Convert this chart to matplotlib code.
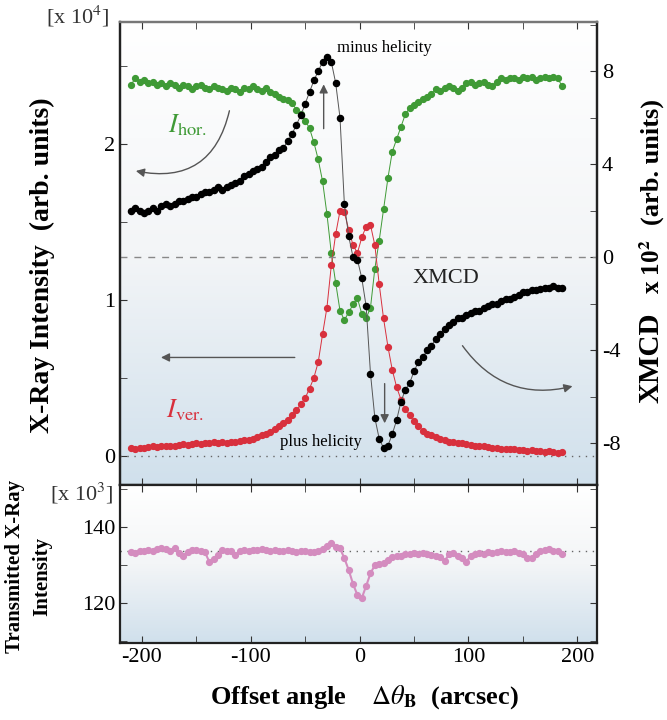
import numpy as np
import matplotlib
matplotlib.use("Agg")
import matplotlib.pyplot as plt
from matplotlib.colors import LinearSegmentedColormap
from matplotlib.patches import FancyArrowPatch
from matplotlib.ticker import MultipleLocator

plt.rcParams['font.family'] = ['Liberation Serif', 'DejaVu Serif']
plt.rcParams['mathtext.fontset'] = 'stix'
plt.rcParams['axes.unicode_minus'] = False

# -------------------------
# data
# -------------------------
offset = list(range(-210, 187, 4))   # arcsec, scan grid

# XMCD x10^2 (right axis)
xmcd = [2.0, 2.1, 2.0, 1.9, 2.0, 2.1, 2.0, 2.2, 2.3, 2.2,
        2.3, 2.4, 2.4, 2.5, 2.6, 2.6, 2.7, 2.8, 2.8, 2.9,
        3.0, 2.9, 3.0, 3.1, 3.2, 3.3, 3.5, 3.6, 3.7, 3.8,
        3.9, 4.1, 4.3, 4.4, 4.6, 4.7, 5.0, 5.3, 5.7, 6.1,
        6.6, 7.1, 7.6, 8.0, 8.4, 8.6, 8.4, 7.5, 6.0, 2.3,
        0.9, 0.0, -0.1, -0.9, -2.1, -5.0, -6.9, -7.8, -8.2, -8.1,
        -7.6, -7.0, -6.2, -5.7, -5.4, -4.9, -4.5, -4.3, -4.0, -3.8,
        -3.5, -3.3, -3.1, -2.9, -2.8, -2.6, -2.6, -2.5, -2.4, -2.3,
        -2.3, -2.2, -2.1, -2.0, -2.0, -1.9, -1.8, -1.8, -1.7, -1.6,
        -1.5, -1.5, -1.4, -1.4, -1.35, -1.3, -1.3, -1.25, -1.3, -1.3]

# I hor. x10^4 (left axis)
i_hor = [2.38, 2.42, 2.40, 2.41, 2.39, 2.40, 2.38, 2.39, 2.37, 2.39,
         2.38, 2.36, 2.38, 2.37, 2.35, 2.37, 2.38, 2.36, 2.35, 2.37,
         2.36, 2.35, 2.34, 2.36, 2.35, 2.33, 2.36, 2.35, 2.37, 2.35,
         2.34, 2.36, 2.33, 2.32, 2.30, 2.29, 2.28, 2.26, 2.22, 2.19,
         2.15, 2.10, 2.01, 1.90, 1.76, 1.55, 1.30, 1.11, 0.93, 0.87,
         0.92, 0.97, 1.01, 0.91, 0.88, 0.95, 1.20, 1.38, 1.58, 1.78,
         1.95, 2.03, 2.11, 2.19, 2.23, 2.25, 2.27, 2.29, 2.30, 2.32,
         2.35, 2.34, 2.36, 2.37, 2.36, 2.34, 2.36, 2.39, 2.40, 2.38,
         2.39, 2.40, 2.38, 2.37, 2.40, 2.42, 2.41, 2.42, 2.42, 2.41,
         2.43, 2.42, 2.43, 2.41, 2.42, 2.43, 2.42, 2.43, 2.42, 2.37]

# I ver. x10^4 (left axis)
i_ver = [0.05, 0.045, 0.05, 0.05, 0.055, 0.06, 0.055, 0.06, 0.065, 0.06,
         0.065, 0.07, 0.075, 0.07, 0.075, 0.08, 0.075, 0.08, 0.08, 0.085,
         0.08, 0.085, 0.08, 0.09, 0.09, 0.095, 0.10, 0.10, 0.11, 0.12,
         0.13, 0.14, 0.15, 0.17, 0.19, 0.21, 0.23, 0.26, 0.29, 0.33,
         0.37, 0.43, 0.50, 0.60, 0.78, 0.95, 1.22, 1.42, 1.57, 1.56,
         1.45, 1.35, 1.30, 1.40, 1.47, 1.48, 1.35, 1.10, 0.88, 0.70,
         0.55, 0.44, 0.36, 0.30, 0.26, 0.22, 0.19, 0.16, 0.14, 0.13,
         0.12, 0.11, 0.10, 0.09, 0.09, 0.08, 0.08, 0.075, 0.07, 0.065,
         0.06, 0.06, 0.055, 0.05, 0.05, 0.045, 0.045, 0.04, 0.04, 0.035,
         0.035, 0.03, 0.035, 0.03, 0.03, 0.025, 0.03, 0.025, 0.02, 0.025]

# transmitted intensity x10^3 (bottom panel)
trans = [133.4, 133.2, 133.6, 133.8, 134.0, 133.6, 134.2, 134.4, 134.3, 133.8,
         134.4, 133.2, 132.4, 133.5, 134.0, 134.0, 133.6, 133.4, 130.8, 131.6,
         132.6, 134.0, 133.6, 133.8, 132.6, 133.8, 134.0, 133.8, 134.0, 133.9,
         134.2, 134.0, 133.8, 134.0, 133.7, 133.6, 133.9, 133.7, 133.4, 133.6,
         133.8, 133.5, 133.4, 133.8, 134.2, 135.0, 135.8, 134.8, 134.4, 131.8,
         128.7, 125.0, 122.1, 121.3, 124.5, 127.8, 130.0, 130.4, 130.6, 131.4,
         132.0, 132.4, 132.5, 132.8, 133.0, 133.2, 133.0, 133.1, 132.8, 132.6,
         132.4, 132.2, 131.0, 132.8, 133.2, 132.4, 131.8, 130.9, 132.4, 133.0,
         133.2, 133.0, 133.4, 133.2, 133.4, 133.6, 133.4, 133.4, 133.6, 133.2,
         132.8, 131.9, 131.8, 132.8, 133.6, 134.0, 134.2, 133.8, 133.6, 133.0]

trans_base = 133.7

GREEN = "#3f9a36"
RED = "#d8303d"
PINK = "#d48cbf"
ARROW = "#555555"

# -------------------------
# figure
# -------------------------
fig = plt.figure(figsize=(6.67, 7.2), dpi=100)
ax = fig.add_axes([0.180, 0.326, 0.715, 0.643])
ax2 = ax.twinx()
axb = fig.add_axes([0.180, 0.107, 0.715, 0.219])

# fondo degradado: blanco arriba, azul claro abajo
cmap = LinearSegmentedColormap.from_list("bg", ["#ffffff", "#f3f5f7", "#d0e0ec"])
grad = np.linspace(0, 1, 256).reshape(-1, 1)
for a in (ax, axb):
    a.imshow(grad, extent=[0, 1, 0, 1], transform=a.transAxes, aspect="auto",
             cmap=cmap, zorder=0)

# top panel
ax.plot(offset, i_hor, "-o", color=GREEN, lw=0.7, ms=4.2, zorder=3)
ax.plot(offset, i_ver, "-o", color=RED, lw=0.7, ms=4.2, zorder=3)
ax2.plot(offset, xmcd, "o", color="black", ms=4.4, zorder=4)
ax2.plot(offset, xmcd, "-", color="#555555", lw=0.7, zorder=3)

ax.axhline(0, ls=(0, (1, 4)), color="#666666", lw=1.0)
ax2.axhline(0, ls=(0, (5, 5)), color="#888888", lw=1.0)

ax.set_xlim(-220, 218)
ax.set_ylim(-0.19, 2.78)
ax2.set_ylim(-9.8, 10.1)

ax.set_yticks([0, 1, 2])
ax.yaxis.set_minor_locator(MultipleLocator(0.5))
ax2.set_yticks([-8, -4, 0, 4, 8])
ax2.yaxis.set_minor_locator(MultipleLocator(2))
ax.xaxis.set_major_locator(MultipleLocator(100))
ax.xaxis.set_minor_locator(MultipleLocator(50))

ax.tick_params(axis="both", which="both", direction="in", top=True,
               labelbottom=False, labelsize=16, length=5, color="#333333")
ax2.tick_params(axis="y", which="both", direction="in", labelsize=16,
                length=5, color="#333333")

# bottom panel
axb.plot(offset, trans, "o", color=PINK, ms=4.2, zorder=3)
axb.plot(offset, trans, "-", color=PINK, lw=1.5, zorder=3)
axb.axhline(trans_base, ls=(0, (1, 4)), color="#666666", lw=1.0, zorder=2)
axb.set_xlim(-220, 218)
axb.set_ylim(109.5, 151)
axb.set_yticks([120, 140])
axb.yaxis.set_minor_locator(MultipleLocator(10))
axb.xaxis.set_major_locator(MultipleLocator(100))
axb.xaxis.set_minor_locator(MultipleLocator(50))
axb.tick_params(axis="both", which="both", direction="in", top=True,
                right=True, labelsize=16, length=5, color="#333333")

for a in (ax, ax2, axb):
    for s in a.spines.values():
        s.set_linewidth(1.6)
        s.set_color("#222222")
ax.spines["top"].set_color("#777777")
ax2.spines["top"].set_color("#777777")

# -------------------------
# texts
# -------------------------
fig.text(0.063, 0.632, "X-Ray Intensity  (arb. units)", rotation=90,
         fontsize=20, fontweight="bold", ha="center", va="center")
fig.text(0.117, 0.978, r"[x 10$^4$]", fontsize=16, ha="center", va="center",
         color="#333333")
fig.text(0.976, 0.503, "XMCD", rotation=90, fontsize=21, fontweight="bold",
         ha="center", va="center")
fig.text(0.978, 0.630, r"x 10$^\mathbf{2}$", rotation=90, fontsize=18,
         fontweight="bold", ha="center", va="center")
fig.text(0.978, 0.775, "(arb. units)", rotation=90, fontsize=19,
         fontweight="bold", ha="center", va="center")

fig.text(0.022, 0.213, "Transmitted X-Ray", rotation=90,
         fontsize=15, fontweight="bold", ha="center", va="center")
fig.text(0.064, 0.199, "Intensity", rotation=90,
         fontsize=15, fontweight="bold", ha="center", va="center")
fig.text(0.123, 0.315, r"[x 10$^3$]", fontsize=16, ha="center", va="center",
         color="#333333")
fig.text(0.547, 0.032, r"Offset angle    $\Delta\theta_\mathbf{B}$  (arcsec)",
         fontsize=19, fontweight="bold", ha="center", va="center")

ax2.text(-21, 9.0, "minus helicity", fontsize=12, ha="left", va="center")
ax2.text(-73, -7.95, "plus helicity", fontsize=12, ha="left", va="center")
ax2.text(79, -0.9, "XMCD", fontsize=16, ha="center", va="center",
         color="#222222")
ax.text(-158, 2.12, r"$I_{\rm hor.}$", fontsize=19, color=GREEN,
        ha="center", va="center")
ax.text(-160, 0.29, r"$I_{\rm ver.}$", fontsize=19, color=RED,
        ha="center", va="center")

# flechas
def flecha(p0, p1, rad=0.0):
    arr = FancyArrowPatch(p0, p1, connectionstyle=f"arc3,rad={rad}",
                          arrowstyle="-|>,head_length=5,head_width=2.5",
                          color=ARROW, lw=1.0, zorder=5)
    ax.add_patch(arr)

flecha((-119, 2.23), (-208, 1.83), rad=-0.5)
flecha((-57, 0.63), (-185, 0.63))
flecha((93, 0.72), (198, 0.45), rad=0.35)
flecha((-33, 2.08), (-33, 2.40))
flecha((23, 0.48), (23, 0.19))

fig.savefig("out.png", dpi=100)
